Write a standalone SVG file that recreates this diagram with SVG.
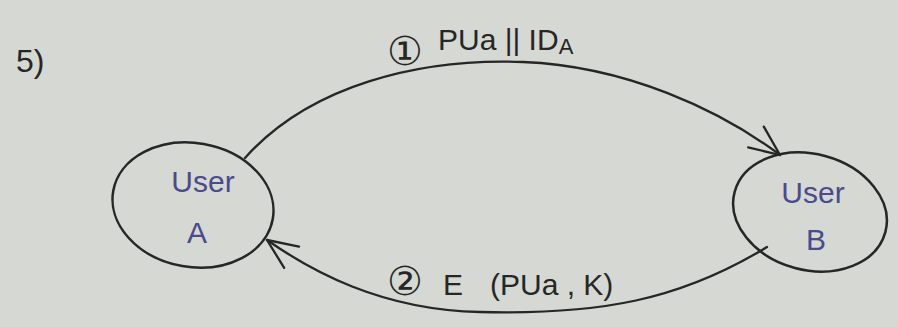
<svg xmlns="http://www.w3.org/2000/svg" width="898" height="327" viewBox="0 0 898 327">
<defs>
<style>
.bg{fill:#d5d8d3}
.node{fill:none;stroke:#262626;stroke-width:2.5}
.edge{fill:none;stroke:#262626;stroke-width:2.3;stroke-linecap:round}
.lbl{font-family:"Liberation Sans","DejaVu Sans",sans-serif;font-size:30px;fill:#262626}
.circ{font-family:"DejaVu Sans",sans-serif;font-size:40px;fill:#262626;text-anchor:middle}
.ntext{font-family:"Liberation Sans","DejaVu Sans",sans-serif;font-size:30px;fill:#4b4a8c;text-anchor:middle}
</style>
<marker id="arr" markerUnits="userSpaceOnUse" markerWidth="40" markerHeight="40" viewBox="-34 -20 40 40" refX="0" refY="0" orient="auto">
<path d="M-30,-13 L0,0 L-30,13" fill="none" stroke="#262626" stroke-width="2.3" stroke-linecap="round" stroke-linejoin="round"/>
</marker>
</defs>
<rect class="bg" x="0" y="0" width="898" height="327"/>
<text class="lbl" x="16" y="72" style="font-size:32px">5)</text>
<g id="userA">
<ellipse class="node" cx="193" cy="205" rx="81" ry="62" transform="rotate(10 193 205)"/>
<text class="ntext" x="203" y="192">User</text>
<text class="ntext" x="197" y="243">A</text>
</g>
<g id="userB">
<ellipse class="node" cx="810" cy="212" rx="78" ry="58" transform="rotate(15 810 212)"/>
<text class="ntext" x="813" y="203">User</text>
<text class="ntext" x="816" y="250">B</text>
</g>
<g id="connectors">
<path class="edge" d="M245,158 C310,85 420,58 523,62 S720,110 780,155" marker-end="url(#arr)"/>
<path class="edge" d="M767,247 C680,300 600,315 480,312 C380,310 310,270 267,240" marker-end="url(#arr)"/>
</g>
<g id="label1">
<text class="circ" x="405" y="65">①</text>
<text class="lbl" x="438" y="50">PUa || ID<tspan style="font-size:22px" dy="4">A</tspan></text>
</g>
<g id="label2">
<text class="circ" x="405" y="295">②</text>
<text class="lbl" x="443" y="295">E <tspan x="490">(PUa , K)</tspan></text>
</g>
</svg>
